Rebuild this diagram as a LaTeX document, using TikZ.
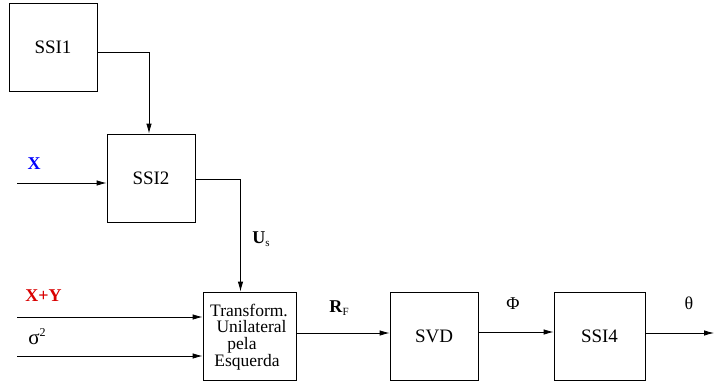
\documentclass[tikz,border=0pt]{standalone}
\usepackage{fontspec}
\setmainfont{Liberation Serif}
\usetikzlibrary{arrows.meta}
\begin{document}
\begin{tikzpicture}[x=1pt,y=-1pt,
  blk/.style={draw,line width=0.8pt,minimum width=88pt,minimum height=88pt,inner sep=0pt,font=\rmfamily\fontsize{19}{21}\selectfont},
  lbl/.style={inner sep=0pt,font=\rmfamily\fontsize{18}{20}\selectfont},
  tl/.style={inner sep=0pt,anchor=base,font=\rmfamily\fontsize{17.5}{19}\selectfont},
  arr/.style={line width=0.8pt,-{Latex[length=10pt,width=5.5pt]}},
  ln/.style={line width=0.8pt}]
\useasboundingbox (0,0) rectangle (714,385);
\node[blk] (ssi1) at (53,47) {SSI1};
\node[blk] (ssi2) at (151,178) {SSI2};
\node[blk,minimum width=93pt] (tr) at (249.5,336) {};
\node[blk] (svd) at (434,336) {SVD};
\node[blk,minimum width=91pt] (ssi4) at (599.5,336) {SSI4};
\node[tl] (t1) at (249,316) {Transform.};
\node[tl] (t2) at (251.5,332) {Unilateral};
\node[tl] (t3) at (242,349) {pela};
\node[tl] (t4) at (247,366.5) {Esquerda};
\coordinate (inx) at (17,183);
\coordinate (inxy) at (17,317);
\coordinate (ins) at (17,356);
\coordinate (outt) at (714,333);
\draw[arr] ([yshift=-5pt]ssi1.east) -| ([xshift=-2pt]ssi2.north);
\draw[arr] (inx) -- (inx -| ssi2.west);
\draw[arr] ([yshift=-1pt]ssi2.east) -| ([xshift=-9pt]tr.north);
\draw[arr] (inxy) -- (inxy -| tr.west);
\draw[arr] (ins) -- (ins -| tr.west);
\draw[arr] ([yshift=3pt]tr.east) -- ([yshift=3pt]svd.west);
\draw[arr] ([yshift=4pt]svd.east) -- ([yshift=4pt]ssi4.west);
\draw[arr] (outt -| ssi4.east) -- (outt);
\node[lbl,text=blue] (lx) at (34,164) {\textbf{X}};
\node[lbl,text=red!85!black] (lxy) at (43.5,295.5) {\textbf{X+Y}};
\node[lbl] (ls) at (37,337) {{\fontsize{21}{21}\selectfont σ}\raisebox{8pt}{\fontsize{12}{12}\selectfont 2}};
\node[lbl] (lu) at (261,239) {\textbf{U}\raisebox{-3pt}{\fontsize{11}{11}\selectfont s}};
\node[lbl] (lr) at (339,308) {\textbf{R}\raisebox{-3pt}{\fontsize{11}{11}\selectfont F}};
\node[lbl] (lp) at (513,304) {Φ};
\node[lbl] (lt) at (689,303) {θ};
\end{tikzpicture}
\end{document}
